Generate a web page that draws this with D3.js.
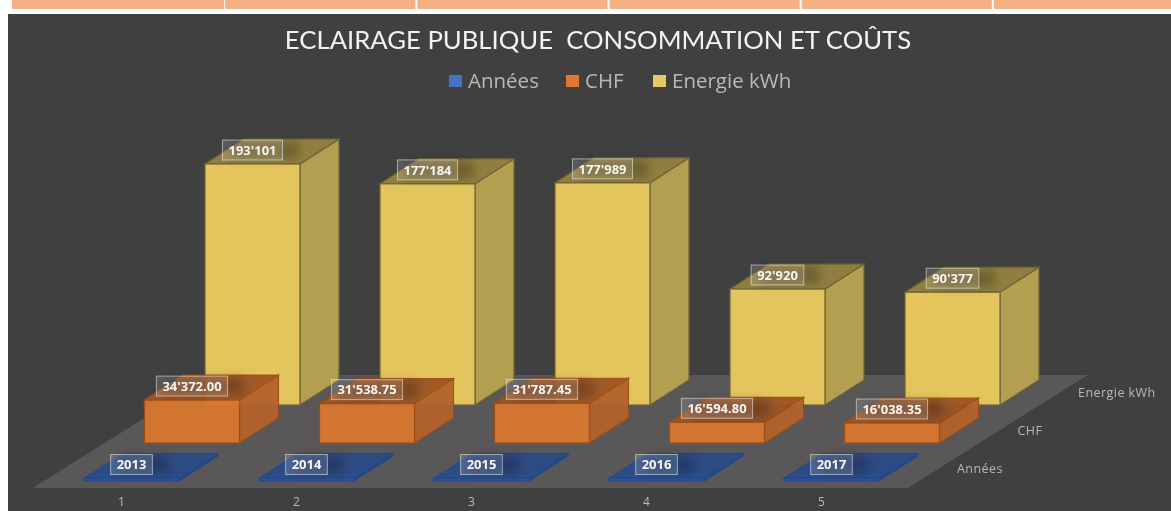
<!DOCTYPE html>
<html>
<head>
<meta charset="utf-8">
<script src="https://cdn.jsdelivr.net/npm/d3@7"></script>
<style>
html, body { margin: 0; padding: 0; background: #fff; }
svg { display: block; filter: blur(0.35px); }
</style>
</head>
<body>
<div id="chart"></div>
<script>
// Data
const categories = ['1', '2', '3', '4', '5'];
const seriesNames = ['Années', 'CHF', 'Energie kWh'];
const annees = [2013, 2014, 2015, 2016, 2017];
const chf = [34372.00, 31538.75, 31787.45, 16594.80, 16038.35];
const energie = [193101, 177184, 177989, 92920, 90377];
const chfLabels = ["34'372.00", "31'538.75", "31'787.45", "16'594.80", "16'038.35"];
const energieLabels = ["193'101", "177'184", "177'989", "92'920", "90'377"];
const titleText = 'ECLAIRAGE PUBLIQUE\u00a0 CONSOMMATION ET COÛTS';

const width = 1171, height = 511;

const palette = {
    'Années': { front: '#2f5597', side: '#27487f', top: '#2b4c88', edge: '#1f4a94', legend: '#4472c4', opacity: 0.95 },
    'CHF': { front: '#d9772f', side: '#b3622a', top: '#9c5526', edge: '#a14e14', legend: '#e0762f', opacity: 0.95 },
    'Energie kWh': { front: '#e4c45c', side: '#b49f50', top: '#8f7e3f', edge: '#6f6436', legend: '#e8c860', opacity: 1 }
};

const svg = d3.select('#chart').append('svg')
    .attr('width', width)
    .attr('height', height)
    .style('font-family', '"Open Sans", sans-serif');

// Strip of the table sitting above the chart
const stripCols = d3.scaleLinear().domain([0, 6]).range([32, 1185]);
svg.selectAll('.strip')
    .data(d3.range(6))
    .enter().append('rect')
    .attr('class', 'strip')
    .attr('x', d => d === 0 ? 12 : stripCols(d) + 1)
    .attr('y', 0)
    .attr('width', d => d === 0 ? stripCols(1) - 12 : stripCols(d + 1) - stripCols(d) - 2)
    .attr('height', 9)
    .attr('fill', '#f4b183');

svg.append('rect')
    .attr('x', 8).attr('y', 14)
    .attr('width', width - 8).attr('height', height - 14)
    .attr('fill', '#404040');

// Scales: category along x, series index as depth, value as height
const x = d3.scaleBand().domain(categories).range([44, 919]).paddingInner(80 / 175).paddingOuter(40 / 175);
const depthX = d3.scaleLinear().domain([0, 2]).range([0, 121]);
const depthY = d3.scaleLinear().domain([0, 2]).range([481, 405]);
const h = d3.scaleLinear().domain([0, 193101]).range([0, 241]);
const barDepth = { dx: 39, dy: -25 };

// Floor
const floorFront = depthY.invert(488), floorBack = depthY.invert(375);
const floorPts = [
    [x.range()[0] + depthX(floorFront), 488],
    [x.range()[1] + depthX(floorFront), 488],
    [x.range()[1] + depthX(floorBack), 375],
    [x.range()[0] + depthX(floorBack), 375]
];
svg.append('polygon')
    .attr('points', floorPts.join(' '))
    .attr('fill', '#595757');

// Bars, back series first
const seriesData = [
    { name: 'Energie kWh', index: 2, values: energie, labels: energieLabels },
    { name: 'CHF', index: 1, values: chf, labels: chfLabels },
    { name: 'Années', index: 0, values: annees, labels: annees.map(String) }
];

// keeps the soft dark patch behind the value labels
const defs = svg.append('defs');
defs.append('filter').attr('id', 'soft').attr('x', '-30%').attr('y', '-50%').attr('width', '160%').attr('height', '200%')
    .append('feGaussianBlur').attr('stdDeviation', 5);

seriesData.forEach(s => {
    const c = palette[s.name];
    const g = svg.append('g').attr('class', 'series').attr('opacity', c.opacity);
    const bars = g.selectAll('.bar')
        .data(s.values.map((v, i) => ({ v, i, label: s.labels[i] })))
        .enter().append('g')
        .attr('class', 'bar');

    const geom = d => {
        const x0 = x(categories[d.i]) + depthX(s.index);
        const x1 = x0 + x.bandwidth();
        const yb = depthY(s.index);
        const yt = yb - h(d.v);
        return { x0, x1, yb, yt };
    };

    bars.append('polygon') // right side
        .attr('points', d => {
            const b = geom(d);
            return [[b.x1, b.yt], [b.x1 + barDepth.dx, b.yt + barDepth.dy], [b.x1 + barDepth.dx, b.yb + barDepth.dy], [b.x1, b.yb]].join(' ');
        })
        .attr('fill', c.side).attr('stroke', c.edge).attr('stroke-width', 1.2);

    bars.append('polygon') // top
        .attr('points', d => {
            const b = geom(d);
            return [[b.x0, b.yt], [b.x1, b.yt], [b.x1 + barDepth.dx, b.yt + barDepth.dy], [b.x0 + barDepth.dx, b.yt + barDepth.dy]].join(' ');
        })
        .attr('fill', c.top).attr('stroke', c.edge).attr('stroke-width', 1.2);

    bars.append('rect') // front
        .attr('x', d => geom(d).x0)
        .attr('y', d => geom(d).yt)
        .attr('width', x.bandwidth())
        .attr('height', d => h(d.v))
        .attr('fill', c.front).attr('stroke', c.edge).attr('stroke-width', 1.2);
});

// Value labels go on top of every bar
seriesData.forEach(s => {
    const labels = svg.append('g').attr('class', 'labels').selectAll('g')
        .data(s.values.map((v, i) => ({ v, i, label: s.labels[i] })))
        .enter().append('g')
        .attr('transform', d => {
            const cx = x(categories[d.i]) + depthX(s.index) + x.bandwidth() / 2;
            return `translate(${cx},${depthY(s.index) - h(d.v) - 14})`;
        });

    const text = labels.append('text')
        .attr('text-anchor', 'middle')
        .attr('dy', '0.36em')
        .attr('font-size', 13)
        .attr('font-weight', 700)
        .attr('fill', '#f5f5f5')
        .text(d => d.label);

    text.each(function (d) { d.w = this.getComputedTextLength() + 12; });

    labels.insert('rect', 'text')
        .attr('x', d => -d.w / 2 + 8).attr('y', -9)
        .attr('width', d => d.w + 8).attr('height', 18)
        .attr('fill', 'rgba(0,0,0,0.22)')
        .attr('filter', 'url(#soft)');

    labels.insert('rect', 'text')
        .attr('x', d => -d.w / 2).attr('y', -10)
        .attr('width', d => d.w).attr('height', 20)
        .attr('fill', 'rgba(255,255,255,0.14)')
        .attr('stroke', 'rgba(255,255,255,0.5)')
        .attr('stroke-width', 1);
});

// Category axis
const xAxis = d3.axisBottom(x).tickSize(0).tickPadding(0);
const axisG = svg.append('g')
    .attr('transform', 'translate(-10,497.5)')
    .call(xAxis);
axisG.select('.domain').remove();
axisG.selectAll('text')
    .attr('font-family', '"Open Sans", sans-serif')
    .attr('font-size', 12)
    .attr('fill', '#b8b8b8');

// Series axis along the right edge of the floor
svg.append('g').selectAll('text')
    .data(seriesNames)
    .enter().append('text')
    .attr('x', (d, i) => 957 + depthX(i))
    .attr('y', (d, i) => depthY(i) - 8)
    .attr('font-size', 12.5)
    .attr('letter-spacing', 0.45)
    .attr('fill', '#b8b8b8')
    .text(d => d);

// Title
svg.append('text')
    .attr('x', 598).attr('y', 49)
    .attr('text-anchor', 'middle')
    .attr('font-family', 'Lato, sans-serif')
    .attr('font-size', 25.7)
    .attr('fill', '#f2f2f2')
    .text(titleText);

// Legend
const legendX = [449, 566, 653];
const legend = svg.append('g').selectAll('g')
    .data(seriesNames)
    .enter().append('g')
    .attr('transform', (d, i) => `translate(${legendX[i]},81)`);
legend.append('rect')
    .attr('x', 0).attr('y', -6)
    .attr('width', 13).attr('height', 12)
    .attr('fill', d => palette[d].legend);
legend.append('text')
    .attr('x', 19).attr('dy', '0.36em')
    .attr('font-size', 20.5)
    .attr('fill', '#b9b9b9')
    .text(d => d);
</script>
</body>
</html>
